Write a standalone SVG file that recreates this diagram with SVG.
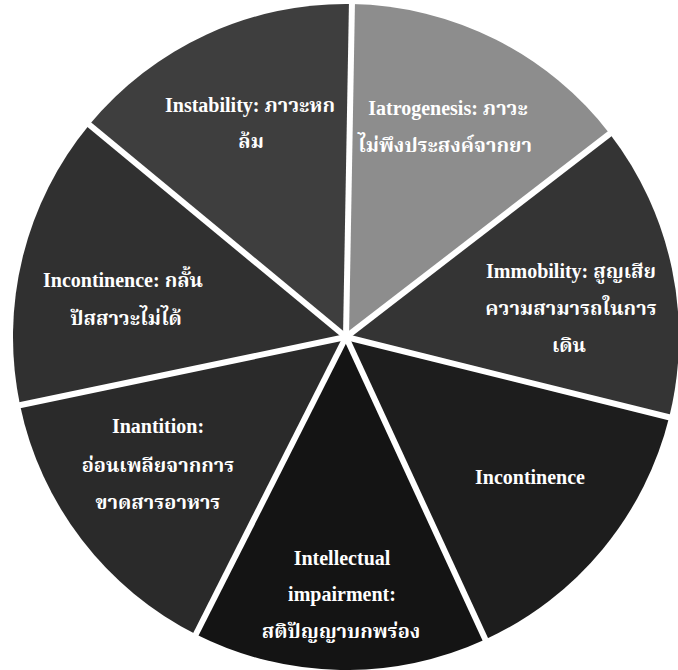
<svg xmlns="http://www.w3.org/2000/svg" width="678" height="670" viewBox="0 0 678 670">
<style>
.lbl{font-family:"Liberation Serif","Noto Serif Thai","Noto Sans Thai","DejaVu Serif",serif;font-weight:bold;font-size:20px;fill:#ffffff;text-anchor:middle}
.div{stroke:#ffffff;stroke-width:6;stroke-linecap:butt}
</style>
<rect width="678" height="670" fill="#ffffff"/>
<g id="slice-iatrogenesis">
<path d="M346,337 L351.8,4.05 A333,333 0 0 1 609.9,134.0 Z" fill="#8d8d8d"/>
<text class="lbl" x="448" y="115">Iatrogenesis: ภาวะ</text>
<text class="lbl" x="445" y="152">ไม่พึงประสงค์จากยา</text>
</g>
<g id="slice-immobility">
<path d="M346,337 L609.9,134.0 A333,333 0 0 1 669.3,416.8 Z" fill="#343434"/>
<text class="lbl" x="571" y="278">Immobility: สูญเสีย</text>
<text class="lbl" x="571" y="315">ความสามารถในการ</text>
<text class="lbl" x="569" y="352">เดิน</text>
</g>
<g id="slice-incontinence-right">
<path d="M346,337 L669.3,416.8 A333,333 0 0 1 485.2,639.5 Z" fill="#1d1d1d"/>
<text class="lbl" x="530" y="484">Incontinence</text>
</g>
<g id="slice-intellectual">
<path d="M346,337 L485.2,639.5 A333,333 0 0 1 196.3,634.5 Z" fill="#141414"/>
<text class="lbl" x="342" y="565">Intellectual</text>
<text class="lbl" x="342" y="601">impairment:</text>
<text class="lbl" x="341" y="638">สติปัญญาบกพร่อง</text>
</g>
<g id="slice-inantition">
<path d="M346,337 L196.3,634.5 A333,333 0 0 1 20.1,405.4 Z" fill="#2a2a2a"/>
<text class="lbl" x="158" y="433">Inantition:</text>
<text class="lbl" x="158" y="472">อ่อนเพลียจากการ</text>
<text class="lbl" x="158" y="509">ขาดสารอาหาร</text>
</g>
<g id="slice-incontinence-left">
<path d="M346,337 L20.1,405.4 A333,333 0 0 1 89.3,124.8 Z" fill="#303030"/>
<text class="lbl" x="123" y="287">Incontinence: กลั้น</text>
<text class="lbl" x="126" y="325">ปัสสาวะไม่ได้</text>
</g>
<g id="slice-instability">
<path d="M346,337 L89.3,124.8 A333,333 0 0 1 351.8,4.05 Z" fill="#3e3e3e"/>
<text class="lbl" x="250" y="112">Instability: ภาวะหก</text>
<text class="lbl" x="251" y="148">ล้ม</text>
</g>
<g id="connectors">
<line class="div" x1="346" y1="337" x2="352" y2="0"/>
<line class="div" x1="346" y1="337" x2="612" y2="132"/>
<line class="div" x1="346" y1="337" x2="672" y2="418"/>
<line class="div" x1="346" y1="337" x2="487" y2="643"/>
<line class="div" x1="346" y1="337" x2="194" y2="638"/>
<line class="div" x1="346" y1="337" x2="16" y2="406"/>
<line class="div" x1="346" y1="337" x2="86" y2="122"/>
</g>
</svg>
